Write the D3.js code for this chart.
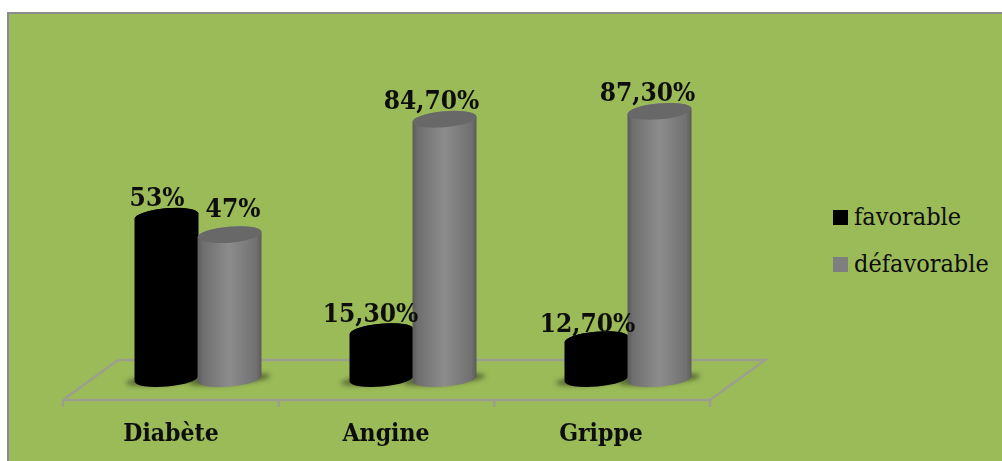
<!DOCTYPE html>
<html>
<head>
<meta charset="utf-8">
<script src="https://cdn.jsdelivr.net/npm/d3@7"></script>
<style>
    html, body { margin: 0; padding: 0; background: #fff; }
    text { font-family: "DejaVu Serif Condensed", "DejaVu Serif", serif; font-stretch: condensed; fill: #0c0c0c; }
</style>
</head>
<body>
<script>
const categories = ["Diabète", "Angine", "Grippe"];
const seriesNames = ["favorable", "défavorable"];
const favorable = [53, 15.3, 12.7];
const defavorable = [47, 84.7, 87.3];
const favorableLabels = ["53%", "15,30%", "12,70%"];
const defavorableLabels = ["47%", "84,70%", "87,30%"];

const width = 1002;
const height = 461;
const RX = 32;
const RY = 8;
const TILT = -5;
const tiltDy = RX * Math.sin((-TILT * Math.PI) / 180);

const x = d3.scaleBand().domain(categories).range([90, 735]);
const inner = d3.scaleBand().domain(seriesNames).range([45, 171]);
const y = d3.scaleLinear().domain([0, 100]).range([378.5, 72.5]);

const svg = d3.select("body").append("svg")
    .attr("width", width)
    .attr("height", height)
    .style("display", "block");

// cadre du graphique
svg.append("rect")
    .attr("x", 8)
    .attr("y", 13)
    .attr("width", width)
    .attr("height", height)
    .attr("fill", "#9bbb59")
    .attr("stroke", "#8c8c8c")
    .attr("stroke-width", 2);

const defs = svg.append("defs");

const grad = defs.append("linearGradient").attr("id", "grayCyl");
[[0, "#5a5a5a"], [0.08, "#6e6e6e"], [0.5, "#8c8c8c"], [0.92, "#707070"], [1, "#5a5a5a"]].forEach((s) => {
    grad.append("stop").attr("offset", s[0]).attr("stop-color", s[1]);
});
defs.append("filter").attr("id", "soft")
    .append("feGaussianBlur").attr("stdDeviation", 0.6);
defs.append("filter").attr("id", "textSoft")
    .append("feGaussianBlur").attr("stdDeviation", 0.3);
defs.append("filter").attr("id", "shadow")
    .attr("x", "-30%").attr("width", "160%").attr("y", "-100%").attr("height", "300%")
    .append("feGaussianBlur").attr("stdDeviation", 2.5);

// plancher 3D
const x0 = x.range()[0] - 27;
const x1 = x.range()[1] - 25;
const floor = svg.append("g")
    .attr("fill", "none")
    .attr("stroke", "#9c9f8f")
    .attr("stroke-width", 2.4);
const floorBack = 360;
const floorFront = 400;
const floorDepth = 55;
floor.append("path")
    .attr("d", d3.line()([
        [x0, floorFront],
        [x0 + floorDepth, floorBack],
        [x1 + floorDepth, floorBack],
        [x1, floorFront],
        [x0, floorFront],
    ]));
d3.range(4).forEach((i) => {
    const tx = x0 + ((x1 - x0) * i) / 3;
    floor.append("line")
        .attr("x1", tx).attr("x2", tx)
        .attr("y1", floorFront).attr("y2", floorFront + 7);
});

// libellés de l'axe
svg.append("g")
    .attr("filter", "url(#textSoft)")
    .selectAll("text")
    .data(categories)
    .join("text")
    .attr("x", (d) => x(d) + x.bandwidth() / 2 - 26.5)
    .attr("y", 440.5)
    .attr("text-anchor", "middle")
    .attr("font-size", 24.5)
    .attr("font-weight", "bold")
    .text((d) => d);

function cylinderPath(cx, top) {
    const base = y(0);
    return `M${cx - RX},${top + tiltDy} L${cx - RX},${base + tiltDy} A${RX},${RY} ${TILT} 0 0 ${cx + RX},${base - tiltDy} L${cx + RX},${top - tiltDy} A${RX},${RY} ${TILT} 0 0 ${cx - RX},${top + tiltDy} Z`;
}

const bars = [];
categories.forEach((c, i) => {
    bars.push({ cat: c, s: seriesNames[0], v: favorable[i], label: favorableLabels[i] });
    bars.push({ cat: c, s: seriesNames[1], v: defavorable[i], label: defavorableLabels[i] });
});
const barX = (d) => x(d.cat) + inner(d.s) + inner.bandwidth() / 2;

// ombres au sol
svg.append("g")
    .selectAll("ellipse")
    .data(bars)
    .join("ellipse")
    .attr("cx", barX)
    .attr("cy", y(0) + 1)
    .attr("rx", RX + 9)
    .attr("ry", RY - 3)
    .attr("transform", (d) => `rotate(${TILT},${barX(d)},${y(0) + 1})`)
    .attr("fill", "#3f4a25")
    .attr("opacity", 0.75)
    .attr("filter", "url(#shadow)");

// cylindres
const cyl = svg.append("g")
    .attr("filter", "url(#soft)")
    .selectAll("g")
    .data(bars)
    .join("g");
cyl.append("path")
    .attr("d", (d) => cylinderPath(barX(d), y(d.v)))
    .attr("fill", (d) => (d.s === seriesNames[0] ? "#000" : "url(#grayCyl)"));
cyl.append("ellipse")
    .attr("cx", barX)
    .attr("cy", (d) => y(d.v))
    .attr("rx", RX)
    .attr("ry", RY)
    .attr("transform", (d) => `rotate(${TILT},${barX(d)},${y(d.v)})`)
    .attr("fill", (d) => (d.s === seriesNames[0] ? "#000" : "#686868"));

// étiquettes : décalage propre à chaque barre, comme dans l'original
const labelNudge = { "53%": [-9.5, -10], "47%": [3.5, -17.5], "15,30%": [-11, -10], "84,70%": [-13, -10], "12,70%": [-9, -8], "87,30%": [-12, -10] };
svg.append("g")
    .attr("filter", "url(#textSoft)")
    .selectAll("text")
    .data(bars)
    .join("text")
    .attr("x", (d) => barX(d) + labelNudge[d.label][0])
    .attr("y", (d) => y(d.v) + labelNudge[d.label][1])
    .attr("text-anchor", "middle")
    .attr("font-size", 26)
    .attr("font-weight", "bold")
    .text((d) => d.label);

// légende
const legend = svg.append("g")
    .selectAll("g")
    .data(seriesNames)
    .join("g")
    .attr("transform", (d, i) => `translate(833,${210 + i * 47})`);
legend.append("rect")
    .attr("width", 15)
    .attr("height", 15)
    .attr("fill", (d, i) => (i === 0 ? "#000" : "#7f7f7f"));
legend.append("text")
    .attr("x", 21)
    .attr("y", 15)
    .attr("font-size", 25)
    .text((d) => d);
</script>
</body>
</html>
